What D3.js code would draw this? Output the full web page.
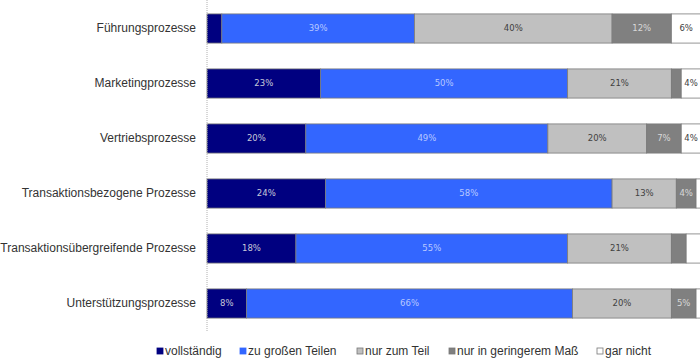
<!DOCTYPE html>
<html><head><meta charset="utf-8">
<script src="https://cdn.jsdelivr.net/npm/d3@7"></script>
<style>body{margin:0;background:#fff;}svg{display:block;}</style>
</head><body>
<svg id="c" width="700" height="358"></svg>
<script>
const categories = ["Führungsprozesse","Marketingprozesse","Vertriebsprozesse","Transaktionsbezogene Prozesse","Transaktionsübergreifende Prozesse","Unterstützungsprozesse"];
const seriesNames = ["vollständig","zu großen Teilen","nur zum Teil","nur in geringerem Maß","gar nicht"];
const vollstaendig = [3,23,20,24,18,8];
const zuGrossenTeilen = [39,50,49,58,55,66];
const nurZumTeil = [40,21,20,13,21,20];
const geringeremMass = [12,2,7,4,3,5];
const garNicht = [6,4,4,1,3,1];
const colors = ["#000080","#3366FF","#C0C0C0","#808080","#FFFFFF"];
const labelColors = ["#c8c8d8","#b8c8ff","#404040","#d8d8d8","#404040"];

const seriesVals = [vollstaendig,zuGrossenTeilen,nurZumTeil,geringeremMass,garNicht];
const svg = d3.select("#c");
const x = d3.scaleLinear().domain([0,100]).range([207,701]);
const y = d3.scaleBand().domain(categories).range([1,331]).paddingInner(0.47).paddingOuter(0.235);

const rows = categories.map((c,i)=>{let acc=0;return seriesVals.map((s,k)=>{const d={cat:c,k,v:s[i],x0:acc};acc+=s[i];d.x1=acc;return d;});});

const g = svg.append("g");
rows.forEach(r=>{
  const bar = g.selectAll(null).data(r).enter();
  bar.append("rect")
    .attr("x",d=>x(d.x0)).attr("width",d=>x(d.x1)-x(d.x0))
    .attr("y",d=>y(d.cat)).attr("height",y.bandwidth())
    .attr("fill",d=>colors[d.k]).attr("stroke","#7a7a7a").attr("stroke-width",0.8);
  bar.filter(d=>d.v>=4).append("text")
    .attr("x",d=>(x(d.x0)+x(d.x1))/2).attr("y",d=>y(d.cat)+y.bandwidth()/2)
    .attr("dy","0.35em").attr("text-anchor","middle")
    .attr("font-family","DejaVu Sans, Verdana, sans-serif").attr("font-size","8.5px")
    .attr("fill",d=>labelColors[d.k]).text(d=>d.v+"%");
});

// axis
const yAxis = d3.axisLeft(y).tickSize(0).tickPadding(11);
const ag = svg.append("g").attr("transform","translate(207,0)").call(yAxis);
ag.select(".domain").attr("stroke","#b0b0b0").attr("stroke-dasharray","1,1").attr("d","M0,0V331");
ag.selectAll("text").attr("font-family","Liberation Sans, Arial, sans-serif").attr("font-size","12px").attr("fill","#333");

// legend
const legX = [157,240,357,449,597];
const lg = svg.append("g").selectAll(null).data(seriesNames).enter().append("g")
  .attr("transform",(d,i)=>`translate(${legX[i]},348)`);
lg.append("rect").attr("x",0).attr("y",0).attr("width",6).attr("height",6)
  .attr("fill",(d,i)=>colors[i]).attr("stroke",(d,i)=>i===0||i===1?colors[i]:"#777").attr("stroke-width",0.8);
lg.append("text").attr("x",8).attr("y",7).attr("font-family","Liberation Sans, Arial, sans-serif")
  .attr("font-size","12px").attr("fill","#333").text(d=>d);
</script>
</body></html>
